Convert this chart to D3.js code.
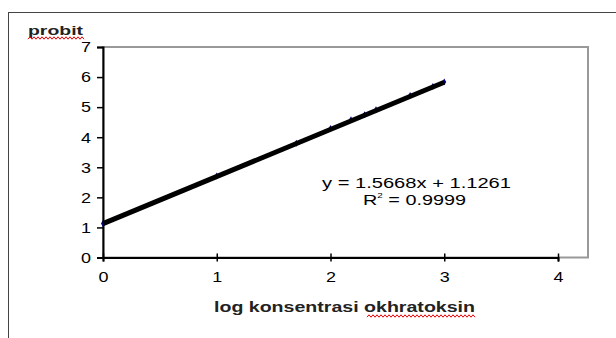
<!DOCTYPE html>
<html><head><meta charset="utf-8">
<script src="https://cdn.jsdelivr.net/npm/d3@7"></script>
<style>html,body{margin:0;padding:0;background:#fff;}svg{display:block;}</style>
</head><body>
<script>
// Data
const xValues = [0, 1, 1.7, 2, 2.18, 2.3, 2.4, 2.7, 2.9, 3.0];
const yValues = [1.13, 2.71, 3.8, 4.29, 4.58, 4.75, 4.91, 5.39, 5.69, 5.84];
const trendSlope = 1.5668;
const trendIntercept = 1.1261;
const trendRange = [0, 3.0];
const xTicks = [0, 1, 2, 3, 4];
const yTicks = [0, 1, 2, 3, 4, 5, 6, 7];
const equationText = "y = 1.5668x + 1.1261";
const r2Value = "0.9999";
const yTitle = "probit";
const xTitle = "log konsentrasi okhratoksin";

const W = 616, H = 338;
const svg = d3.select("body").append("svg").attr("width", W).attr("height", H);

// outer chart border
svg.append("rect").attr("x", 8.5).attr("y", 12.5).attr("width", 640).attr("height", 400)
  .attr("fill", "none").attr("stroke", "#444").attr("stroke-width", 1);

const x = d3.scaleLinear().domain([0, 4]).range([103, 558]);
const y = d3.scaleLinear().domain([0, 7]).range([257.5, 47]);

// plot area border
svg.append("rect").attr("x", 103).attr("y", 47).attr("width", 588 - 103).attr("height", 257.5 - 47)
  .attr("fill", "none").attr("stroke", "#999").attr("stroke-width", 2);

const font = "'Liberation Sans', Arial, sans-serif";
const fmt = d3.format("d");

// Y axis
const yAxis = svg.append("g").attr("transform", `translate(${x(0)},0)`)
  .call(d3.axisLeft(y).tickValues(yTicks).tickFormat(fmt).tickSize(6).tickPadding(6));
yAxis.select(".domain").attr("stroke", "#000").attr("stroke-width", 2);
yAxis.selectAll(".tick line").attr("stroke", "#000").attr("stroke-width", 1.5);
yAxis.selectAll(".tick text").attr("font-family", font).attr("font-size", 15).attr("fill", "#000")
  .attr("textLength", 10).attr("lengthAdjust", "spacingAndGlyphs");

// X axis
const xAxis = svg.append("g").attr("transform", `translate(0,${y(0)})`)
  .call(d3.axisBottom(x).tickValues(xTicks).tickFormat(fmt).tickSize(4).tickPadding(10));
xAxis.select(".domain").attr("stroke", "#000").attr("stroke-width", 2);
xAxis.selectAll(".tick line").attr("stroke", "#000").attr("stroke-width", 1.5).attr("y1", -4);
xAxis.selectAll(".tick text").attr("font-family", font).attr("font-size", 15).attr("fill", "#000")
  .attr("textLength", 10).attr("lengthAdjust", "spacingAndGlyphs");

// data markers (diamonds)
svg.append("g").selectAll("path").data(xValues.map((v, i) => [v, yValues[i]]))
  .join("path")
  .attr("transform", d => `translate(${x(d[0])},${y(d[1])})`)
  .attr("d", d3.symbol(d3.symbolDiamond, 14)())
  .attr("fill", "#000080");

// trendline
svg.append("line")
  .attr("x1", x(trendRange[0])).attr("y1", y(trendIntercept + trendSlope * trendRange[0]))
  .attr("x2", x(trendRange[1])).attr("y2", y(trendIntercept + trendSlope * trendRange[1]))
  .attr("stroke", "#000").attr("stroke-width", 5);

// equation label
svg.append("text").attr("x", 322).attr("y", 188).attr("font-family", font).attr("font-size", 14)
  .attr("fill", "#000").attr("textLength", 189).attr("lengthAdjust", "spacingAndGlyphs")
  .text(equationText);
const r2 = svg.append("text").attr("x", 363).attr("y", 205).attr("font-family", font).attr("font-size", 14)
  .attr("fill", "#000").attr("textLength", 103).attr("lengthAdjust", "spacingAndGlyphs");
r2.append("tspan").text("R");
r2.append("tspan").attr("font-size", 7).attr("dy", -7).text("2");
r2.append("tspan").attr("dy", 7).text(" = " + r2Value);

// titles
svg.append("text").attr("x", 28).attr("y", 35).attr("font-family", font).attr("font-size", 13)
  .attr("font-weight", "bold").attr("fill", "#222")
  .attr("textLength", 55).attr("lengthAdjust", "spacingAndGlyphs").text(yTitle);
svg.append("text").attr("x", 214).attr("y", 312).attr("font-family", font).attr("font-size", 15)
  .attr("font-weight", "bold").attr("fill", "#222")
  .attr("textLength", 261).attr("lengthAdjust", "spacingAndGlyphs").text(xTitle);

// spell-check wavy underlines
function wavy(x0, x1, yy) {
  const pts = [];
  for (let xx = x0, k = 0; xx <= x1; xx += 2, k++) pts.push([xx, yy + (k % 2 ? -1.2 : 1.2)]);
  svg.append("path").attr("d", d3.line()(pts)).attr("fill", "none").attr("stroke", "#e00").attr("stroke-width", 1);
}
wavy(28, 84, 38);
wavy(367, 475, 316);
</script>
</body></html>
